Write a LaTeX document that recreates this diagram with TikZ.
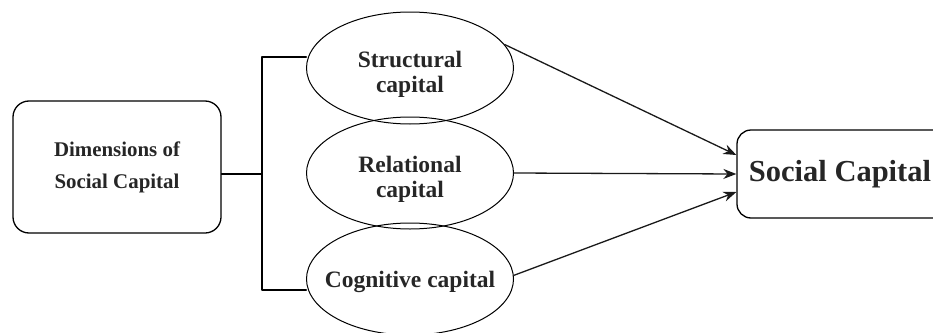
\documentclass[tikz,border=0pt]{standalone}
\usepackage{fontspec}
\setmainfont{Liberation Serif}
\usetikzlibrary{arrows.meta,shapes.geometric}
\begin{document}
\begin{tikzpicture}[x=1pt, y=-1pt, line cap=round, line join=round, >={Stealth[length=13pt,width=10pt]},
	dimbox/.style={draw, rounded corners=16pt, line width=1.3pt, minimum width=208pt, minimum height=132pt, align=center, text=black!85, font=\fontsize{20.9}{32}\selectfont\bfseries},
	capnode/.style={draw, ellipse, line width=1pt, minimum width=207pt, minimum height=112pt, inner sep=0pt},
	captext/.style={align=center, text=black!85, yshift=-6pt, font=\fontsize{23.5}{25}\selectfont\bfseries},
	scbox/.style={draw, rounded corners=14pt, line width=1.3pt, minimum width=212pt, minimum height=88pt, text=black!85, font=\fontsize{30.5}{32}\selectfont\bfseries},
	link/.style={->, line width=1.3pt, black!90}]
			\useasboundingbox (0,0) rectangle (933,332);
			\node[dimbox] (dim) at (117,167) {Dimensions of\\Social Capital};
			\node[capnode, label={[captext]center:Structural\\capital}] (struct) at (410,68) {};
			\node[capnode, label={[captext]center:Relational\\capital}] (rel) at (410,173) {};
			\node[capnode, label={[captext, yshift=3pt]center:Cognitive capital}] (cog) at (410,279) {};
			\node[scbox] (sc) at (843,174) {\hspace*{-6pt}Social Capital};
			% bracket joining the three dimensions
			\coordinate (jn) at (262,174);
			\draw[line width=1.7pt] ([yshift=-7pt]dim.east) -- (jn);
			\draw[line width=2.2pt] ([yshift=11pt]struct.west) -| (jn) |- ([yshift=-11pt]cog.west);
			% effects on social capital
			\draw[link] (struct.14) -- ([yshift=19pt]sc.west);
			\draw[link] (rel.east) -- (sc.west);
			\draw[link] (cog.2) -- ([yshift=-18pt]sc.west);
		\end{tikzpicture}
\end{document}
